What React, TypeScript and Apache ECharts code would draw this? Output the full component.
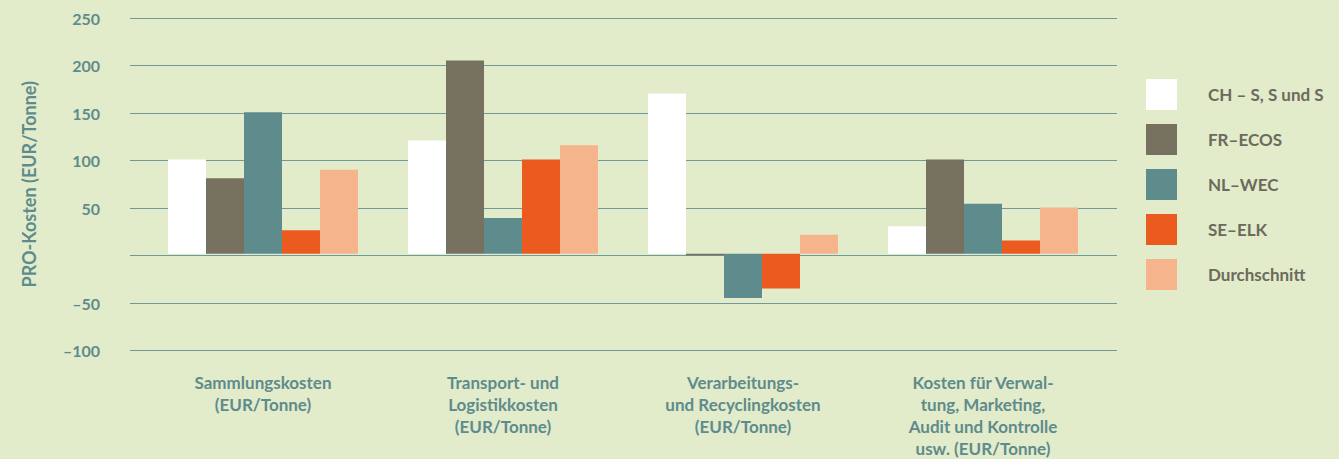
import React, { useEffect, useRef } from "react";
import * as echarts from "echarts";

const categories = [
  "Sammlungskosten\n(EUR/Tonne)",
  "Transport- und\nLogistikkosten\n(EUR/Tonne)",
  "Verarbeitungs-\nund Recyclingkosten\n(EUR/Tonne)",
  "Kosten für Verwal-\ntung, Marketing,\nAudit und Kontrolle\nusw. (EUR/Tonne)",
];
const seriesNames = ["CH – S, S und S", "FR–ECOS", "NL–WEC", "SE–ELK", "Durchschnitt"];
const chValues = [100, 120, 170, 29];
const frValues = [80, 205, -1.5, 100];
const nlValues = [150, 38, -47, 53];
const seValues = [25, 100, -37, 14];
const avgValues = [89, 115, 20, 49];
const colors = ["#ffffff", "#76725f", "#5e8b8c", "#eb5a1e", "#f6b48c"];
const yMin = -100;
const yMax = 250;
const yStep = 50;

export default function App() {
  const ref = useRef<HTMLDivElement>(null);
  useEffect(() => {
    if (!ref.current) return;
    const chart = echarts.init(ref.current, null, { renderer: "svg" });
    const font = "Lato";
    const teal = "#5e8b8c";
    const allData = [chValues, frValues, nlValues, seValues, avgValues];
    chart.setOption({
      animation: false,
      backgroundColor: "#e2ebca",
      textStyle: { fontFamily: font },
      grid: [
        { left: 130, right: 1339 - 1117, top: 18, bottom: 459 - 350.5 },
        { left: 143, right: 1339 - 1103, top: 18, bottom: 459 - 350.5 },
      ],
      legend: {
        orient: "vertical",
        left: 1146,
        top: 79,
        padding: 0,
        itemWidth: 31,
        itemHeight: 31,
        itemGap: 14,
        icon: "rect",
        data: seriesNames,
        textStyle: {
          color: "#6b6a5c",
          fontSize: 17,
          fontWeight: "bold",
          fontFamily: font,
          padding: [0, 0, 0, 26],
        },
      },
      xAxis: [
        {
          gridIndex: 0,
          type: "category",
          data: categories,
          show: false,
        },
        {
          gridIndex: 1,
          type: "category",
          data: categories,
          position: "bottom",
          axisLine: { show: false, onZero: false },
          axisTick: { show: false },
          axisLabel: {
            color: teal,
            fontSize: 17,
            fontWeight: "bold",
            fontFamily: font,
            lineHeight: 22,
            margin: 23,
            interval: 0,
          },
        },
      ],
      yAxis: [
        {
          gridIndex: 0,
          type: "value",
          min: yMin,
          max: yMax,
          interval: yStep,
          name: "PRO-Kosten (EUR/Tonne)",
          nameLocation: "middle",
          nameGap: 92,
          nameRotate: 90,
          nameTextStyle: {
            color: teal,
            fontSize: 18,
            fontWeight: "bold",
            fontFamily: font,
          },
          axisLine: { show: false },
          axisTick: { show: false },
          axisLabel: {
            color: teal,
            fontSize: 16,
            fontWeight: "bold",
            fontFamily: font,
            margin: 30,
            formatter: (v: number) => (v === 0 ? "" : v < 0 ? "–" + Math.abs(v) : String(v)),
          },
          splitLine: { show: true, lineStyle: { color: "#6f9a9a", width: 1 } },
        },
        {
          gridIndex: 1,
          type: "value",
          min: yMin,
          max: yMax,
          interval: yStep,
          show: false,
          splitLine: { show: false },
        },
      ],
      series: seriesNames.map((name, i) => ({
        name,
        type: "bar",
        xAxisIndex: 1,
        yAxisIndex: 1,
        data: allData[i],
        barWidth: 38,
        barGap: "0%",
        itemStyle: { color: colors[i] },
      })),
    });
    return () => chart.dispose();
  }, []);
  return <div ref={ref} style={{ width: 1339, height: 459, position: "absolute", left: 0, top: 0 }} />;
}
